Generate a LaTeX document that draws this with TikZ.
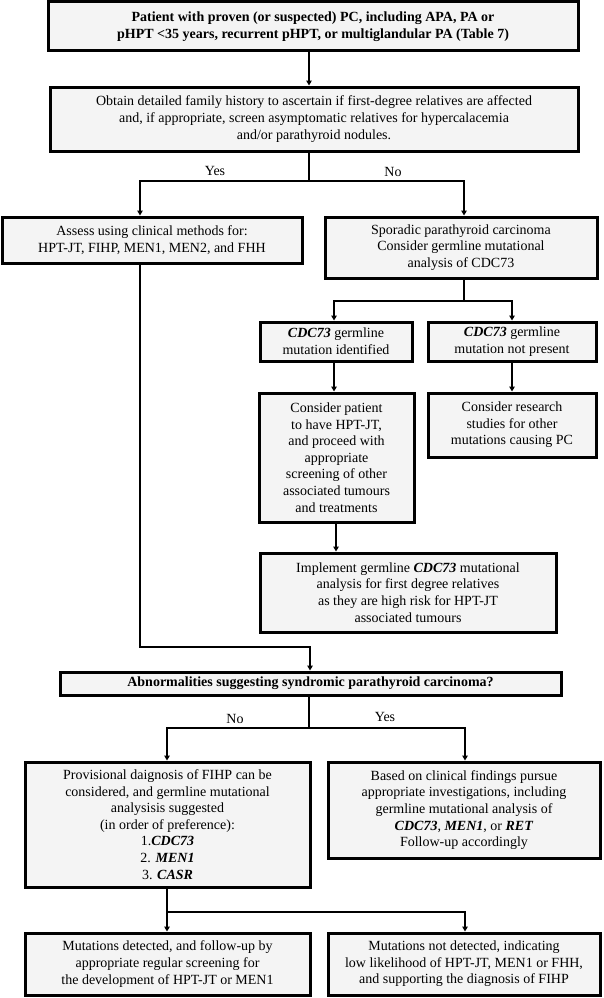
\documentclass[tikz,border=0pt]{standalone}
\usepackage{fontspec}
\setmainfont{Liberation Serif}
\usetikzlibrary{arrows.meta,calc}
\definecolor{boxfill}{HTML}{F4F4F4}
\newcommand{\bfit}[1]{\textbf{\textit{#1}}}
\begin{document}
\begin{tikzpicture}[x=1pt,y=-1pt,
  box/.style={draw=black, line width=3pt, fill=boxfill, align=center, inner sep=2pt,
    font=\fontsize{14}{16.6}\selectfont},
  boxb/.style={box, font=\fontsize{14}{17.5}\selectfont\bfseries},
  conn/.style={line width=1.5pt},
  arr/.style={conn, -{Triangle[length=5pt,width=5.5pt]}},
  lbl/.style={font=\fontsize{14}{16}\selectfont, inner sep=0pt}]
\fill[white] (0,0) rectangle (603,998);
\useasboundingbox (0,0) rectangle (603,998);

\node[boxb, minimum width=530pt, minimum height=49pt] (b1) at (313,26.5)
  {Patient with proven (or suspected) PC, including APA, PA or\\pHPT <35 years, recurrent pHPT, or multiglandular PA (Table 7)};
\node[box, minimum width=528pt, minimum height=64pt] (b2) at (314,119)
  {Obtain detailed family history to ascertain if first-degree relatives are affected\\and, if appropriate, screen asymptomatic relatives for hypercalacemia\\and/or parathyroid nodules.};
\node[box, minimum width=300pt, minimum height=46pt] (b3) at (152,240)
  {Assess using clinical methods for:\\HPT-JT, FIHP, MEN1, MEN2, and FHH};
\node[box, minimum width=272pt, minimum height=61pt] (b4) at (461,247.5)
  {Sporadic parathyroid carcinoma\\Consider germline mutational\\analysis of CDC73};
\node[box, minimum width=152pt, minimum height=39pt] (b5) at (336,341.5)
  {\bfit{CDC73} germline\\mutation identified};
\node[box, minimum width=168pt, minimum height=39pt] (b6) at (512,341.5)
  {\bfit{CDC73} germline\\mutation not present};
\node[box, minimum width=155pt, minimum height=129pt] (b7) at (336.5,457.5)
  {Consider patient\\to have HPT-JT,\\and proceed with\\appropriate\\screening of other\\associated tumours\\and treatments};
\node[box, minimum width=168pt, minimum height=64pt] (b8) at (512,425)
  {Consider research\\studies for other\\mutations causing PC};
\node[box, minimum width=296pt, minimum height=79pt] (b9) at (408,592.5)
  {Implement germline \bfit{CDC73} mutational\\analysis for first degree relatives\\as they are high risk for HPT-JT\\associated tumours};
\node[boxb, minimum width=501pt, minimum height=23pt] (b10) at (310.5,683.5)
  {Abnormalities suggesting syndromic parathyroid carcinoma?};
\node[box, minimum width=285pt, minimum height=125pt] (b11) at (167.5,824.5)
  {Provisional daignosis of FIHP can be\\considered, and germline mutational\\analysisis suggested\\(in order of preference):\\1.\bfit{CDC73}\\2. \bfit{MEN1}\\3. \bfit{CASR}};
\node[box, minimum width=272pt, minimum height=96pt] (b12) at (464,810)
  {Based on clinical findings pursue\\appropriate investigations, including\\germline mutational analysis of\\\bfit{CDC73}, \bfit{MEN1}, or \bfit{RET}\\Follow-up accordingly};
\node[box, minimum width=285pt, minimum height=62pt] (b13) at (167.5,964)
  {Mutations detected, and follow-up by\\appropriate regular screening for\\the development of HPT-JT or MEN1};
\node[box, minimum width=272pt, minimum height=62pt] (b14) at (464,964)
  {Mutations not detected, indicating\\low likelihood of HPT-JT, MEN1 or FHH,\\and supporting the diagnosis of FIHP};

\coordinate (xa) at (140,0);
\coordinate (xm) at (309,0);
\coordinate (xr) at (464,0);
\coordinate (xc) at (334,0);
\coordinate (xd) at (512,0);
\coordinate (xe) at (336,0);
\coordinate (xl) at (167,0);
\coordinate (xb) at (310,0);
\coordinate (xs) at (465,0);

\draw[arr] (b1.south -| xm) -- (b2.north -| xm);
\coordinate (j1) at (309,181);
\draw[conn] (b2.south -| xm) -- (j1);
\draw[arr] (j1) -| (b3.north -| xa);
\draw[arr] (j1) -| (b4.north -| xr);
\coordinate (j2) at (464,301);
\draw[conn] (b4.south -| xr) -- (j2);
\draw[arr] (j2) -| (b5.north -| xc);
\draw[arr] (j2) -| (b6.north -| xd);
\draw[arr] (b5.south -| xc) -- (b7.north -| xc);
\draw[arr] (b6.south -| xd) -- (b8.north -| xd);
\draw[arr] (b7.south -| xe) -- (b9.north -| xe);
\coordinate (j3) at (140,647);
\draw[arr] (b3.south -| xa) -- (j3) -| (b10.north -| xb);
\coordinate (j4) at (309,728);
\draw[conn] (b10.south -| xm) -- (j4);
\draw[arr] (j4) -| (b11.north -| xl);
\draw[arr] (j4) -| (b12.north -| xs);
\coordinate (j5) at (167,912);
\draw[arr] (b11.south -| xl) -- (j5) -- (b13.north -| xl);
\draw[arr] (j5) -| (b14.north -| xs);

\node[lbl] (l1) at (215,171) {Yes};
\node[lbl] (l2) at (393,172) {No};
\node[lbl] (l3) at (235,719) {No};
\node[lbl] (l4) at (385,717) {Yes};
\end{tikzpicture}
\end{document}
